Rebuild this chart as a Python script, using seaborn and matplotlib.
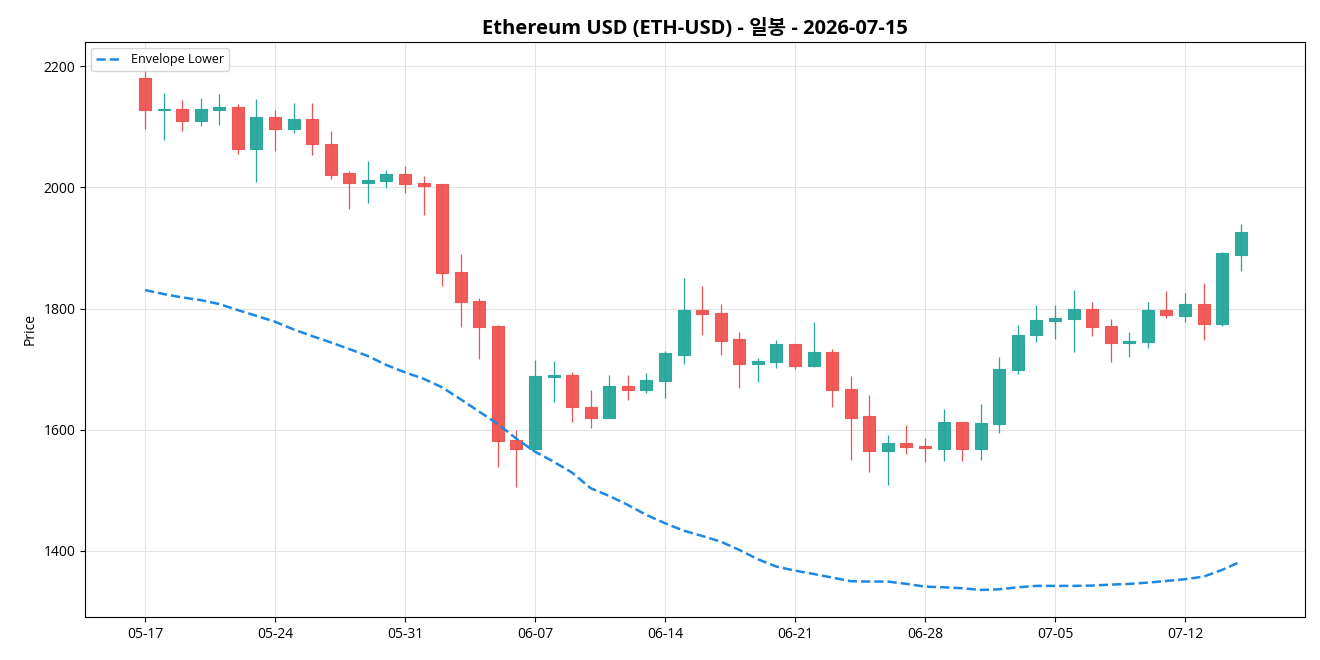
import matplotlib
matplotlib.use("Agg")
import matplotlib.pyplot as plt
import seaborn as sns
import pandas as pd
import numpy as np

# daily candles, 2026-05-17 .. 2026-07-15
dates = pd.date_range("2026-05-17", periods=60, freq="D")

opens = [2181, 2127, 2130, 2110, 2127, 2133, 2064, 2117, 2097, 2113,
         2072, 2023, 2008, 2011, 2022, 2007, 2005, 1860, 1813, 1772,
         1583, 1569, 1687, 1691, 1638, 1620, 1673, 1665, 1680, 1724,
         1797, 1792, 1749, 1709, 1711, 1741, 1705, 1728, 1667, 1622,
         1565, 1578, 1573, 1569, 1612, 1569, 1609, 1698, 1756, 1779,
         1782, 1799, 1771, 1743, 1744, 1797, 1787, 1807, 1774, 1889]
highs = [2195, 2155, 2144, 2147, 2154, 2138, 2146, 2127, 2139, 2139,
         2093, 2027, 2043, 2028, 2035, 2019, 2006, 1890, 1817, 1773,
         1600, 1715, 1713, 1696, 1666, 1690, 1690, 1694, 1730, 1850,
         1837, 1807, 1762, 1718, 1748, 1742, 1778, 1733, 1689, 1657,
         1591, 1608, 1586, 1634, 1612, 1642, 1720, 1773, 1806, 1806,
         1830, 1811, 1783, 1761, 1811, 1829, 1826, 1842, 1894, 1939]
lows = [2097, 2078, 2093, 2102, 2103, 2055, 2009, 2060, 2090, 2053,
        2014, 1964, 1974, 1999, 1991, 1954, 1838, 1770, 1717, 1539,
        1506, 1569, 1645, 1613, 1603, 1620, 1649, 1661, 1652, 1708,
        1757, 1723, 1669, 1678, 1702, 1701, 1703, 1638, 1550, 1531,
        1509, 1560, 1547, 1549, 1549, 1550, 1595, 1692, 1744, 1749,
        1729, 1755, 1711, 1720, 1735, 1785, 1778, 1748, 1772, 1862]
closes = [2127, 2130, 2110, 2129, 2133, 2064, 2117, 2097, 2113, 2071,
          2021, 2008, 2013, 2022, 2005, 2003, 1858, 1811, 1770, 1581,
          1569, 1688, 1691, 1637, 1620, 1673, 1665, 1682, 1726, 1797,
          1791, 1747, 1709, 1713, 1741, 1705, 1728, 1665, 1620, 1565,
          1578, 1571, 1570, 1612, 1569, 1611, 1700, 1757, 1781, 1784,
          1799, 1769, 1743, 1746, 1797, 1789, 1807, 1774, 1891, 1926]
env_lower = [1830.5, 1824.0, 1818.4, 1814.0, 1807.4, 1797.5, 1788.0, 1778.3, 1765.6, 1754.6,
             1744.2, 1733.2, 1721.6, 1706.8, 1694.7, 1684.2, 1670.0, 1650.2, 1629.8, 1609.5,
             1585.3, 1563.8, 1547.3, 1529.2, 1503.4, 1490.7, 1475.9, 1459.4, 1445.7, 1433.5,
             1424.7, 1415.4, 1401.7, 1386.3, 1374.1, 1367.5, 1362.0, 1356.0, 1350.0, 1349.4,
             1349.4, 1345.6, 1341.1, 1340.0, 1338.4, 1335.6, 1336.7, 1340.0, 1342.3, 1342.3,
             1342.3, 1342.8, 1344.4, 1345.6, 1347.7, 1350.5, 1353.3, 1357.6, 1368.7, 1382.3]

UP = "#26a69a"
DOWN = "#ef5350"

df = pd.DataFrame({"x": np.arange(len(dates)), "open": opens, "high": highs,
                   "low": lows, "close": closes, "env": env_lower})

sns.set_style("ticks")
plt.rcParams["font.family"] = ["Open Sans", "Noto Sans CJK KR", "DejaVu Sans"]
plt.rcParams["text.color"] = "black"
plt.rcParams["axes.labelcolor"] = "black"
plt.rcParams["xtick.color"] = "black"
plt.rcParams["ytick.color"] = "black"

fig, ax = plt.subplots(figsize=(13.2, 6.6), dpi=100)
fig.subplots_adjust(left=0.0644, right=0.9886, top=0.9364, bottom=0.0652)

# candles
for _, r in df.iterrows():
    col = UP if r["close"] >= r["open"] else DOWN
    ax.vlines(r["x"], r["low"], r["high"], color=col, linewidth=0.9, zorder=2)
    bottom = min(r["open"], r["close"])
    height = max(abs(r["close"] - r["open"]), 1.5)
    ax.bar(r["x"], height, bottom=bottom, width=0.65, color=col,
           edgecolor=col, linewidth=0.8, alpha=0.95, zorder=3)

# envelope line
sns.lineplot(data=df, x="x", y="env", ax=ax, color="#1e88e5",
             linestyle="--", linewidth=1.8, label="Envelope Lower", zorder=4)

ax.set_xlim(-3.23, 62.46)
ax.set_ylim(1291, 2240)
ax.set_yticks([1400, 1600, 1800, 2000, 2200])
tick_pos = list(range(0, 60, 7))
ax.set_xticks(tick_pos)
ax.set_xticklabels([dates[i].strftime("%m-%d") for i in tick_pos])
ax.grid(True, color="#e3e3e3", linewidth=0.8)
ax.set_axisbelow(True)
ax.set_xlabel("")
ax.set_ylabel("Price", fontsize=10)
ax.tick_params(labelsize=10)
for s in ax.spines.values():
    s.set_visible(True)
    s.set_color("black")
ax.set_title("Ethereum USD (ETH-USD) - 일봉 - 2026-07-15", fontsize=14.5,
             fontweight="bold")
ax.legend(loc="upper left", fontsize=9, frameon=True)

fig.savefig("out.png", dpi=100)
